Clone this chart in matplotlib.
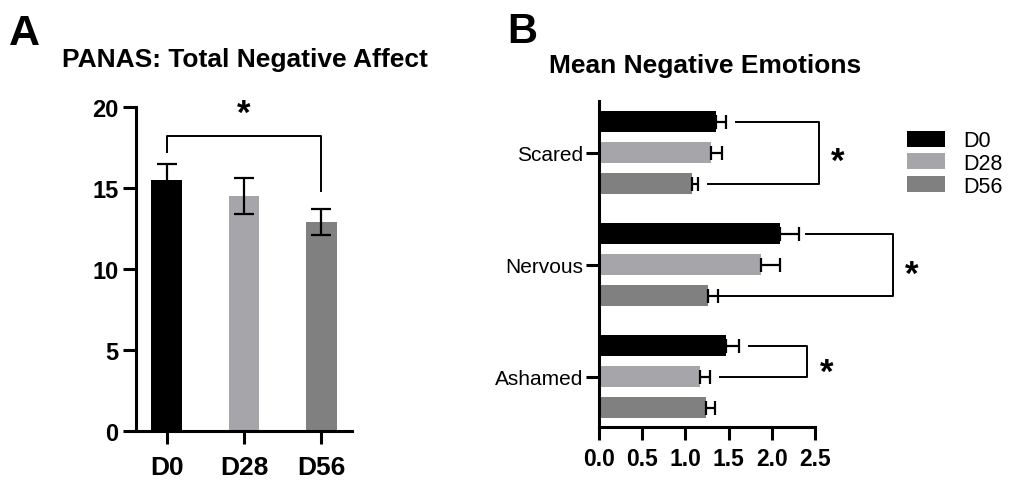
import matplotlib
matplotlib.use("Agg")
import matplotlib.pyplot as plt
import numpy as np
from matplotlib.patches import Patch

plt.rcParams['font.family'] = ['Liberation Sans', 'DejaVu Sans']

# ---- Data ----
groups = ["D0", "D28", "D56"]
colors = ["#000000", "#a6a6aa", "#808080"]

panas_mean = [15.5, 14.5, 12.9]
panas_err = [1.0, 1.1, 0.8]

emotions = ["Scared", "Nervous", "Ashamed"]
emo_mean = {
    "D0": [1.35, 2.09, 1.47],
    "D28": [1.30, 1.875, 1.17],
    "D56": [1.08, 1.265, 1.235],
}
emo_err = {
    "D0": [0.12, 0.22, 0.15],
    "D28": [0.12, 0.22, 0.11],
    "D56": [0.07, 0.11, 0.11],
}

W, H = 1009, 481
fig = plt.figure(figsize=(W / 100, H / 100), dpi=100)

def ax_px(l, t, r, b):
    return fig.add_axes([l / W, 1 - b / H, (r - l) / W, (b - t) / H])

LW = 2.2

# ---- Panel A ----
axA = ax_px(136, 108, 352, 432)
xa = np.arange(len(groups))
axA.bar(xa, panas_mean, width=0.4, color=colors)
axA.errorbar(xa, panas_mean, yerr=panas_err, fmt="none", ecolor="black",
             elinewidth=1.6, capsize=7, capthick=1.6)
axA.set_xlim(-0.40, 2.40)
axA.set_ylim(0, 20)
axA.set_yticks([0, 5, 10, 15, 20])
axA.set_xticks(xa)
axA.set_xticklabels(groups, fontsize=19, fontweight="bold")
for lab in axA.get_yticklabels():
    lab.set_fontsize(17)
    lab.set_fontweight("bold")
for s in ["top", "right"]:
    axA.spines[s].set_visible(False)
for s in ["left", "bottom"]:
    axA.spines[s].set_linewidth(LW)
axA.tick_params(axis="both", width=LW, length=9.5)
axA.tick_params(axis="y", pad=3)
axA.tick_params(axis="x", pad=8)
# bracket
axA.plot([0, 0, 2, 2], [17.2, 18.2, 18.2, 14.8], color="black", lw=1.4, clip_on=False)
axA.text(1, 18.6, "*", ha="center", va="bottom", fontsize=25, fontweight="bold")
fig.text(245 / W, 1 - 67 / H, "PANAS: Total Negative Affect", ha="center",
         va="baseline", fontsize=19, fontweight="bold")
fig.text(9 / W, 1 - 45 / H, "A", ha="left", va="baseline", fontsize=31, fontweight="bold")

# ---- Panel B ----
axB = ax_px(599, 101.7, 815, 428.3)
yc = np.arange(len(emotions))
offs = [-0.277, 0.0, 0.277]
for g, off, c in zip(groups, offs, colors):
    axB.barh(yc + off, emo_mean[g], height=0.185, color=c)
    axB.errorbar(emo_mean[g], yc + off, xerr=[np.zeros(3), emo_err[g]], fmt="none",
                 ecolor="black", elinewidth=1.6, capsize=5, capthick=1.6)
axB.set_ylim(2.452, -0.464)
axB.set_xlim(0, 2.5)
axB.set_xticks([0, 0.5, 1.0, 1.5, 2.0, 2.5])
axB.set_xticklabels(["0.0", "0.5", "1.0", "1.5", "2.0", "2.5"], fontsize=16.5,
                    fontweight="bold")
axB.set_yticks(yc)
axB.set_yticklabels(emotions, fontsize=15)
for s in ["top", "right"]:
    axB.spines[s].set_visible(False)
for s in ["left", "bottom"]:
    axB.spines[s].set_linewidth(LW)
axB.tick_params(axis="both", width=LW, length=9.5)
axB.tick_params(axis="y", pad=2)
axB.tick_params(axis="x", pad=5)

def bracket(x1, y1, x2, y2, xb, star_x, star_y):
    axB.plot([x1, xb, xb, x2], [y1, y1, y2, y2], color="black", lw=1.4, clip_on=False)
    axB.text(star_x, star_y, "*", ha="center", va="center", fontsize=25,
             fontweight="bold", clip_on=False)

bracket(1.59, 0 + offs[0], 1.26, 0 + offs[2], 2.546, 2.76, 0.08)
bracket(2.40, 1 + offs[0], 1.40, 1 + offs[2], 3.40, 3.62, 1.09)
bracket(1.74, 2 + offs[0], 1.40, 2 + offs[1], 2.41, 2.63, 1.96)

fig.text(705 / W, 1 - 73 / H, "Mean Negative Emotions", ha="center", va="baseline",
         fontsize=19, fontweight="bold")
fig.text(507 / W, 1 - 43 / H, "B", ha="left", va="baseline", fontsize=30, fontweight="bold")

handles = [Patch(facecolor=c, edgecolor="none") for c in colors]
fig.legend(handles, groups, loc="upper left", bbox_to_anchor=(905 / W, 1 - 129 / H),
           frameon=False, fontsize=15.5, handlelength=1.75, handleheight=0.75,
           labelspacing=0.08, handletextpad=0.85, borderaxespad=0, borderpad=0.1)

fig.savefig("out.png", dpi=100)
